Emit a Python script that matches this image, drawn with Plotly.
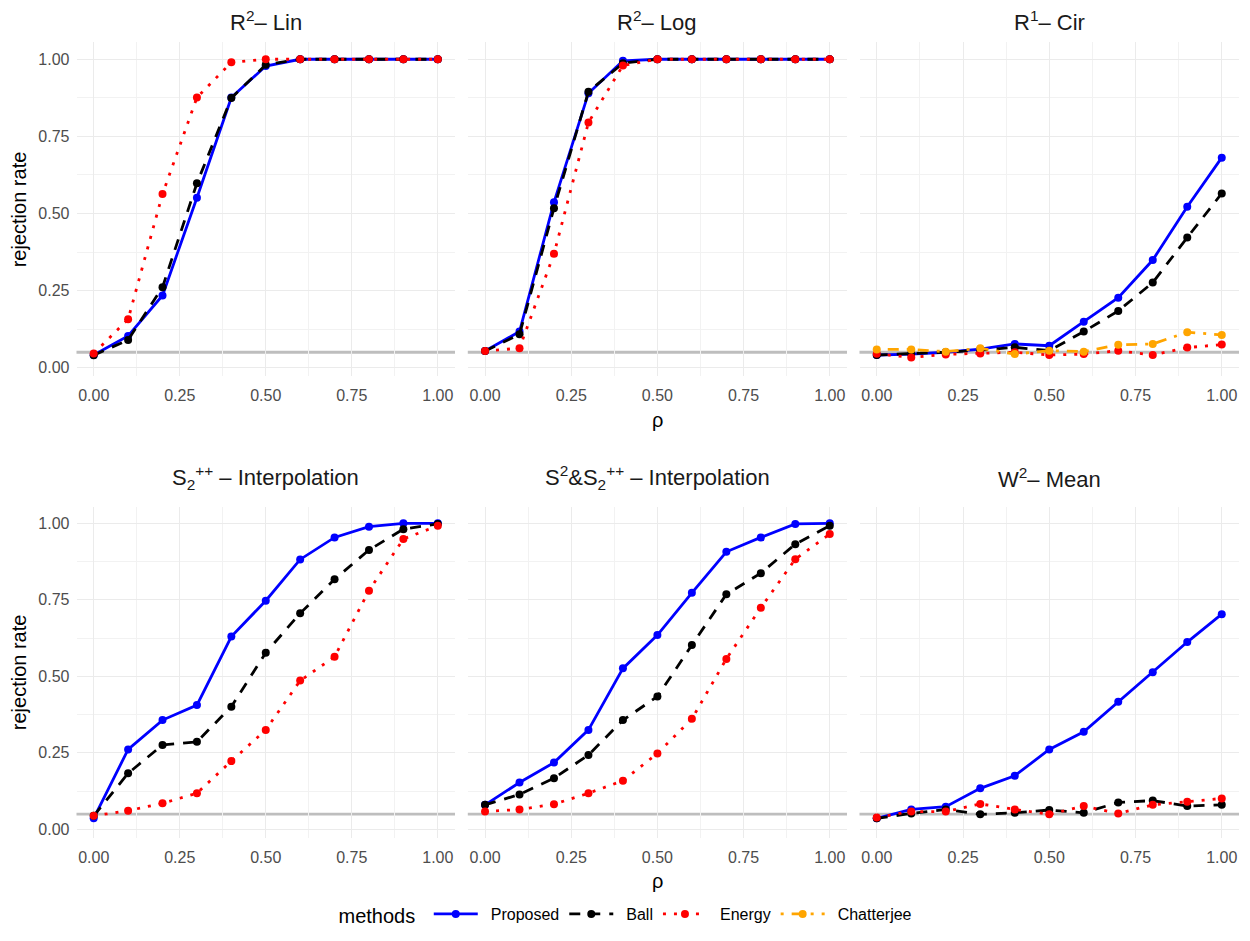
import plotly.graph_objects as go

rho = [0.0, 0.1, 0.2, 0.3, 0.4, 0.5, 0.6, 0.7, 0.8, 0.9, 1.0]

panel_titles = [
    "R<sup>2</sup>– Lin",
    "R<sup>2</sup>– Log",
    "R<sup>1</sup>– Cir",
    "S<sub>2</sub><sup>++</sup> – Interpolation",
    "S<sup>2</sup>&amp;S<sub>2</sub><sup>++</sup> – Interpolation",
    "W<sup>2</sup>– Mean",
]

# Panel 1: R^2 - Lin
lin_proposed = [0.041, 0.103, 0.234, 0.551, 0.876, 0.978, 1.0, 1.0, 1.0, 1.0, 1.0]
lin_ball = [0.040, 0.090, 0.261, 0.598, 0.874, 0.982, 1.0, 1.0, 1.0, 1.0, 1.0]
lin_energy = [0.046, 0.157, 0.563, 0.876, 0.990, 1.0, 1.0, 1.0, 1.0, 1.0, 1.0]

# Panel 2: R^2 - Log
log_proposed = [0.054, 0.117, 0.536, 0.890, 0.995, 1.0, 1.0, 1.0, 1.0, 1.0, 1.0]
log_ball = [0.054, 0.108, 0.517, 0.895, 0.987, 1.0, 1.0, 1.0, 1.0, 1.0, 1.0]
log_energy = [0.054, 0.063, 0.369, 0.795, 0.980, 1.0, 1.0, 1.0, 1.0, 1.0, 1.0]

# Panel 3: R^1 - Cir
cir_proposed = [0.041, 0.044, 0.050, 0.060, 0.077, 0.071, 0.149, 0.227, 0.349, 0.522, 0.681]
cir_ball = [0.041, 0.045, 0.050, 0.057, 0.066, 0.055, 0.117, 0.184, 0.276, 0.422, 0.565]
cir_energy = [0.045, 0.033, 0.043, 0.046, 0.050, 0.041, 0.044, 0.055, 0.041, 0.065, 0.075]
cir_chatterjee = [0.059, 0.059, 0.052, 0.063, 0.044, 0.055, 0.052, 0.074, 0.077, 0.115, 0.106]

# Panel 4: S2++ - Interpolation
spd_proposed = [0.036, 0.261, 0.357, 0.406, 0.630, 0.747, 0.882, 0.954, 0.989, 1.0, 1.0]
spd_ball = [0.044, 0.183, 0.276, 0.286, 0.401, 0.577, 0.706, 0.817, 0.913, 0.981, 0.998]
spd_energy = [0.044, 0.061, 0.085, 0.118, 0.223, 0.325, 0.486, 0.564, 0.780, 0.949, 0.992]

# Panel 5: S2 & S2++ - Interpolation
mix_proposed = [0.080, 0.153, 0.218, 0.325, 0.526, 0.635, 0.773, 0.907, 0.954, 0.998, 1.0]
mix_ball = [0.080, 0.114, 0.167, 0.243, 0.357, 0.434, 0.602, 0.768, 0.837, 0.932, 0.992]
mix_energy = [0.058, 0.065, 0.082, 0.118, 0.159, 0.248, 0.361, 0.557, 0.724, 0.883, 0.965]

# Panel 6: W^2 - Mean
w_proposed = [0.036, 0.065, 0.074, 0.134, 0.175, 0.261, 0.319, 0.417, 0.513, 0.612, 0.703]
w_ball = [0.036, 0.052, 0.065, 0.049, 0.054, 0.063, 0.054, 0.088, 0.094, 0.076, 0.080]
w_energy = [0.039, 0.058, 0.058, 0.083, 0.065, 0.049, 0.076, 0.052, 0.080, 0.090, 0.101]

alpha_level = 0.05

tick_vals = [0, 0.25, 0.5, 0.75, 1.0]
tick_text = ["0.00", "0.25", "0.50", "0.75", "1.00"]
minor_vals = [0.125, 0.375, 0.625, 0.875]

panels = [
    {"Proposed": lin_proposed, "Ball": lin_ball, "Energy": lin_energy},
    {"Proposed": log_proposed, "Ball": log_ball, "Energy": log_energy},
    {"Proposed": cir_proposed, "Ball": cir_ball, "Energy": cir_energy, "Chatterjee": cir_chatterjee},
    {"Proposed": spd_proposed, "Ball": spd_ball, "Energy": spd_energy},
    {"Proposed": mix_proposed, "Ball": mix_ball, "Energy": mix_energy},
    {"Proposed": w_proposed, "Ball": w_ball, "Energy": w_energy},
]

methods = ["Proposed", "Ball", "Energy", "Chatterjee"]
styles = {
    "Proposed": dict(color="#0000ff", dash="solid"),
    "Ball": dict(color="#000000", dash="11px,9px"),
    "Energy": dict(color="#ff0000", dash="3px,8px"),
    "Chatterjee": dict(color="#ffa500", dash="3px,8px,11px,8px"),
}

# page has an 8px body margin
OFF = 8
W, H = 1234, 925
FONT = "Liberation Sans, Arial, sans-serif"


def px(x):
    return (x - OFF) / W


def py(y):
    return (H + OFF - y) / H


XR = [-0.05, 1.05]
YR = [-0.028, 1.055]
# pixel geometry of panels in the reference
xdomains_px = [(76.5, 455.0), (467.8, 847.0), (859.5, 1239.0)]
ydomains_px = [(42.3, 376.3), (506.5, 837.9)]
title_y = [21, 478]
rho_y = [420, 881]

fig = go.Figure()
layout = {}
shown = set()
for i, pdata in enumerate(panels):
    r, c = divmod(i, 3)
    ax = "" if i == 0 else str(i + 1)
    xd = xdomains_px[c]
    yd = ydomains_px[r]
    xdom = [px(xd[0]), px(xd[1])]
    ydom = [py(yd[1]), py(yd[0])]
    common = dict(showgrid=True, gridcolor="#ebebeb", gridwidth=1.2, zeroline=False,
                  showline=False, ticks="", tickvals=tick_vals, ticktext=tick_text,
                  tickfont=dict(size=16, color="#4d4d4d", family=FONT),
                  minor=dict(showgrid=True, gridcolor="#f2f2f2", gridwidth=0.7,
                             tickvals=minor_vals))
    layout["xaxis" + ax] = dict(domain=xdom, anchor="y" + ax, range=XR,
                                ticklabelstandoff=8, **common)
    layout["yaxis" + ax] = dict(domain=ydom, anchor="x" + ax, range=YR,
                                showticklabels=(c == 0), ticklabelstandoff=6, **common)
    fig.add_shape(type="line", xref="paper", yref="y" + ax,
                  x0=xdom[0], x1=xdom[1], y0=alpha_level, y1=alpha_level,
                  line=dict(color="#bebebe", width=2.8), layer="between")
    for m in methods:
        if m not in pdata:
            continue
        st = styles[m]
        fig.add_trace(go.Scatter(
            x=rho, y=pdata[m], mode="lines+markers", name="\u2002" + m,
            xaxis="x" + ax, yaxis="y" + ax,
            line=dict(color=st["color"], dash=st["dash"], width=2.8),
            marker=dict(color=st["color"], size=8),
            showlegend=(m not in shown), legendgroup=m,
        ))
        shown.add(m)
    fig.add_annotation(text=panel_titles[i], xref="paper", yref="paper",
                       x=(xdom[0] + xdom[1]) / 2, y=py(title_y[r]),
                       xanchor="center", yanchor="middle", showarrow=False,
                       font=dict(size=22, color="#1a1a1a", family=FONT))

for r in range(2):
    yd = ydomains_px[r]
    fig.add_annotation(text="rejection rate", xref="paper", yref="paper",
                       x=px(19), y=py((yd[0] + yd[1]) / 2), textangle=-90,
                       xanchor="center", yanchor="middle", showarrow=False,
                       font=dict(size=20, color="#000000", family=FONT))
    fig.add_annotation(text="ρ", xref="paper", yref="paper",
                       x=px((xdomains_px[1][0] + xdomains_px[1][1]) / 2),
                       y=py(rho_y[r]),
                       xanchor="center", yanchor="middle", showarrow=False,
                       font=dict(size=20, color="#000000", family=FONT))

fig.update_layout(
    width=W, height=H,
    margin=dict(l=0, r=0, t=0, b=0),
    paper_bgcolor="white", plot_bgcolor="white",
    font=dict(family=FONT, color="#000000"),
    legend=dict(orientation="h", x=px(627), xanchor="center", y=0, yanchor="bottom",
                title=dict(text="methods ", font=dict(size=20, family=FONT)),
                font=dict(size=16, family=FONT), itemwidth=44,
                tracegroupgap=0),
    **layout,
)

fig.write_html("out.html")
